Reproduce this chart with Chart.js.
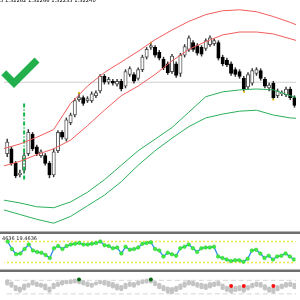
<!DOCTYPE html>
<html><head><meta charset="utf-8">
<script src="https://cdn.jsdelivr.net/npm/chart.js@4.4.0/dist/chart.umd.min.js"></script>
<style>
html,body{margin:0;padding:0;background:#fff;width:300px;height:300px;overflow:hidden;position:relative;font-family:"DejaVu Sans",sans-serif}
canvas{position:absolute;left:0}
#c1{top:0}
#c2{top:234px}
#c3{top:272px}
.sep{position:absolute;left:0;width:300px;height:2px;background:#6e6e6e;border-top:1px solid #b4b4b4;z-index:3}
#toptxt{position:absolute;left:0;top:-3px;font-size:5.2px;color:#000;white-space:nowrap;z-index:4}
#indtxt{position:absolute;left:2px;top:235px;font-size:5px;color:#222;white-space:nowrap;z-index:4}
#chk{position:absolute;left:-4px;top:52px;width:18px;height:36px;box-sizing:border-box;border-right:7px solid #21b04b;border-bottom:7px solid #21b04b;transform-origin:100% 100%;transform:rotate(45deg);filter:drop-shadow(0 0 0.7px #0b6e2c);z-index:4}
</style></head>
<body>
<div id="toptxt">5 1.32262 1.32266 1.32235 1.32240</div>
<div id="chk"></div>
<canvas id="c1" width="300" height="232"></canvas>
<div class="sep" style="top:231px"></div>
<canvas id="c2" width="300" height="36"></canvas>
<div id="indtxt">4636 19.4636</div>
<div class="sep" style="top:269px"></div>
<canvas id="c3" width="300" height="28"></canvas>
<script>
// ---- candles (price level units) ----
const open  = [145,150,135,123,128,145,165,152,143,143, 135,123,148,167,160,177,185,201,203,200, 200,205,210,225,219,220,217,220,215,227, 227,223,232,245,255,255,250,243,238,230, 238,228,247,253,260,257,255,254,258,259, 260,245,242,238,232,230,223,214,218,228, 231,222,213,218,205,207,206,212,203];
const high  = [160,152,137,128,146,170,167,154,149,145, 137,150,169,169,182,187,202,208,205,204, 209,210,227,227,224,222,222,222,232,235, 229,234,247,255,260,257,252,245,240,248, 240,249,258,267,262,259,257,264,267,264, 262,247,244,240,234,232,225,229,233,234, 233,224,218,220,212,210,214,214,205];
const low   = [142,133,120,121,125,143,148,143,141,133, 120,121,146,160,158,175,183,199,195,198, 198,203,208,217,217,216,215,210,213,225, 218,221,230,243,253,245,242,232,227,228, 224,225,245,251,251,247,246,252,256,257, 242,236,235,226,225,223,209,212,216,226, 221,213,210,201,203,205,204,201,193];
const close = [157,135,122,125,143,167,150,145,147,135, 123,147,167,162,180,185,200,203,197,202, 207,208,225,219,222,218,220,212,230,233, 220,232,245,253,257,247,244,234,229,246, 226,247,256,265,253,249,248,262,265,262, 244,238,237,228,227,225,212,227,231,232, 223,215,216,203,210,208,212,203,195];
// ---- bands, sampled at these bar positions ----
const bandX      = [-1,3,7,11,15,19,23,27,31,35,39,43,47,51,55,59,63,67,71];
const redUpper   = [150,155,162,170,197,215,229,240,251,263,273,282,289,293,294,292,287,281,274];
const redLower   = [132,137,144,150,159,174,190,205,215,227,241,253,261,268,271,271,269,264,259];
const greenUpper = [97,94,90,89,95,105,118,133,148,160,172,188,204,209,211,212,211,205,200];
const greenLower = [87,82,77,73,80,91,102,116,133,148,161,173,182,186,189,190,185,182,181];
const levelLine = 219;
const signalBar = 4, signalTop = 197, signalBottom = 117;
const fractalIdx = [17,34,56,63];
const fractalVal = [208,260,209,201];
// ---- oscillator panel ----
const osc = [32,22,15,16,22,28,20,18,17,14, 10,23,26,22,26,28,29,30,28,28, 29,30,32,27,26,23,24,16,25,21, 22,24,29,30,31,22,20,12,17,15, 13,23,25,28,23,18,23,24,24,25, 12,10,8,6,7,7,5,9,20,21, 16,10,13,8,12,13,16,12,8];
const oscLevels = [32,4];
// ---- bottom panel ----
const histLo = [15,12,7,5,8,12,15,13,12,8, 5,10,13,15,17,17,18,17,15,13, 12,15,17,15,13,11,8,7,10,13, 12,15,17,18,18,14,10,7,4,3, 6,9,12,15,14,12,10,9,11,13, 14,9,6,4,6,7,5,8,11,13, 12,8,5,4,7,10,12,13,10];
const histHi = [23,20,15,13,17,18,22,20,18,17, 13,18,20,22,22,23,24,22,22,20, 18,20,22,22,21,19,17,15,18,20, 19,21,23,24,23,21,18,15,13,12, 14,17,20,22,21,19,18,17,19,20, 21,17,14,12,14,15,13,15,18,20, 19,16,13,12,15,17,19,20,18];
const histLevels = [22,3];
const upDotIdx = [17,34], upDotVal = [23,23];
const dnDotIdx = [53,56,63], dnDotVal = [14,14,14];

const idx = open.map((_, i) => i);
const common = {responsive:false, animation:false, devicePixelRatio:1, events:[], layout:{padding:0},
  plugins:{legend:{display:false}, tooltip:{enabled:false}}};
const xs = {type:'linear', min:-0.76, max:68.36, offset:false, display:false};
const pts = (xa, ya) => xa.map((x, k) => ({x, y: ya[k]}));
const hline = (v, color, w, dash, order) => ({type:'line', data:[{x:-2,y:v},{x:71,y:v}], borderColor:color, borderWidth:w, borderDash:dash, pointRadius:0, order});
const band = (arr, color) => ({type:'line', data:pts(bandX, arr), borderColor:color, borderWidth:1, pointRadius:0, tension:0, order:0});

new Chart(document.getElementById('c1'), {
  type:'bar',
  data:{datasets:[
    band(redUpper,'#f25c5c'), band(redLower,'#f25c5c'),
    band(greenUpper,'#2bb05a'), band(greenLower,'#2bb05a'),
    {type:'line', data:[{x:signalBar,y:signalTop},{x:signalBar,y:signalBottom}], borderColor:'#12b84a', borderWidth:2, borderDash:[4,2,1,2], pointRadius:0, order:0},
    {type:'line', showLine:false, data:pts(fractalIdx, fractalVal), pointStyle:'rect', pointRadius:1.3, backgroundColor:'#e8c400', borderWidth:0, order:0},
    {type:'bar', data:idx.map(i => ({x:i, y:[open[i], close[i]]})), backgroundColor:idx.map(i => close[i] >= open[i] ? '#ffffff' : '#000000'),
      borderColor:idx.map(i => close[i] >= open[i] ? '#555' : '#000'), borderWidth:1, borderSkipped:false, barThickness:3.4, grouped:false, order:1},
    {type:'bar', data:idx.map(i => ({x:i, y:[low[i], high[i]]})), backgroundColor:'#333', barThickness:0.8, grouped:false, order:2},
    hline(levelLine, '#cfcfcf', 1, [], 3)
  ]},
  options:{...common, scales:{x:xs, y:{min:68, max:300, display:false}}}
});

new Chart(document.getElementById('c2'), {
  type:'line',
  data:{datasets:[
    {data:pts(idx, osc), borderColor:'#2a8cf0', borderWidth:1.3, tension:0, pointRadius:1.8, pointBackgroundColor:'#3df03d', pointBorderColor:'#22c422', pointBorderWidth:0.5, order:0},
    hline(oscLevels[0], '#e4e400', 1.5, [1.5,2.5], 1),
    hline(oscLevels[1], '#e4e400', 1.5, [1.5,2.5], 1)
  ]},
  options:{...common, scales:{x:xs, y:{min:0, max:36, display:false}}}
});

new Chart(document.getElementById('c3'), {
  type:'bar',
  data:{datasets:[
    {type:'line', showLine:false, data:pts(upDotIdx, upDotVal), pointRadius:2, backgroundColor:'#0a6a14', borderWidth:0, order:0},
    {type:'line', showLine:false, data:pts(dnDotIdx, dnDotVal), pointRadius:2, backgroundColor:'#ff1010', borderWidth:0, order:0},
    {type:'bar', data:idx.map(i => ({x:i, y:[histLo[i], histHi[i]]})), backgroundColor:'#c4c4c4', barThickness:3.5, borderRadius:2, borderSkipped:false, grouped:false, order:1},
    hline(histLevels[0], '#d4d4d4', 1, [5,3], 2),
    hline(histLevels[1], '#d4d4d4', 1, [5,3], 2)
  ]},
  options:{...common, scales:{x:xs, y:{min:0, max:28, display:false}}}
});
</script>
</body></html>
